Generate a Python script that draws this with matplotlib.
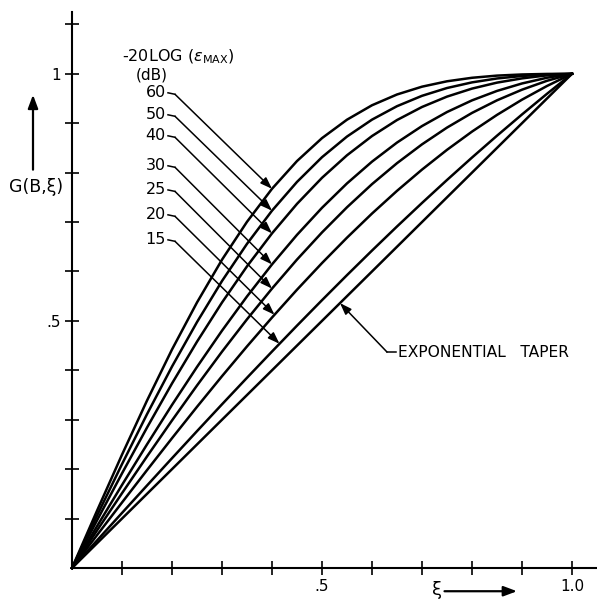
import numpy as np
import matplotlib
matplotlib.use("Agg")
import matplotlib.pyplot as plt

# normalized taper curves G(B, xi) at xi = 0, .05, ... 1.0
xi = [0.0, 0.05, 0.1, 0.15, 0.2, 0.25, 0.3, 0.35, 0.4, 0.45, 0.5,
      0.55, 0.6, 0.65, 0.7, 0.75, 0.8, 0.85, 0.9, 0.95, 1.0]
g60 = [0, 0.1157, 0.2293, 0.3387, 0.4421, 0.5373, 0.6238, 0.7005, 0.7673, 0.8234, 0.8698,
       0.9071, 0.9363, 0.9581, 0.9739, 0.9848, 0.9919, 0.9963, 0.9986, 0.9997, 1]
g50 = [0, 0.1059, 0.2102, 0.3112, 0.4076, 0.4976, 0.5807, 0.6559, 0.7230, 0.7812, 0.8312,
       0.8730, 0.9072, 0.9344, 0.9554, 0.9712, 0.9826, 0.9905, 0.9955, 0.9988, 1]
g40 = [0, 0.0963, 0.1914, 0.2841, 0.3734, 0.4579, 0.5372, 0.6104, 0.6771, 0.7368, 0.7895,
       0.8351, 0.8740, 0.9064, 0.9328, 0.9538, 0.9700, 0.9821, 0.9907, 0.9968, 1]
g30 = [0, 0.0844, 0.1680, 0.2501, 0.3300, 0.4068, 0.4802, 0.5495, 0.6143, 0.6741, 0.7288,
       0.7782, 0.8222, 0.8608, 0.8942, 0.9226, 0.9462, 0.9653, 0.9804, 0.9920, 1]
g25 = [0, 0.0759, 0.1513, 0.2257, 0.2985, 0.3693, 0.4377, 0.5032, 0.5654, 0.6241, 0.6790,
       0.7299, 0.7767, 0.8191, 0.8572, 0.8911, 0.9208, 0.9463, 0.9678, 0.9858, 1]
g20 = [0, 0.0664, 0.1325, 0.1980, 0.2626, 0.3261, 0.3881, 0.4484, 0.5068, 0.5631, 0.6170,
       0.6684, 0.7172, 0.7631, 0.8061, 0.8461, 0.8830, 0.9168, 0.9476, 0.9753, 1]
g15 = [0, 0.0557, 0.1114, 0.1669, 0.2221, 0.2769, 0.3312, 0.3849, 0.4380, 0.4904, 0.5419,
       0.5926, 0.6423, 0.6910, 0.7386, 0.7851, 0.8305, 0.8747, 0.9177, 0.9595, 1]
g_exp = [0, 0.05, 0.1, 0.15, 0.2, 0.25, 0.3, 0.35, 0.4, 0.45, 0.5,
         0.55, 0.6, 0.65, 0.7, 0.75, 0.8, 0.85, 0.9, 0.95, 1]

db_labels = ["60", "50", "40", "30", "25", "20", "15"]
db_curves = [g60, g50, g40, g30, g25, g20, g15]
label_y = [0.9615, 0.917, 0.8745, 0.8138, 0.765, 0.7146, 0.664]
tip_xi = [0.40, 0.40, 0.40, 0.40, 0.40, 0.405, 0.415]

xticks = [0.1, 0.2, 0.3, 0.4, 0.5, 0.6, 0.7, 0.8, 0.9, 1.0]
xticklabels = ["", "", "", "", ".5", "", "", "", "", "1.0"]
yticks = [0.1, 0.2, 0.3, 0.4, 0.5, 0.6, 0.7, 0.8, 0.9, 1.0, 1.1]
yticklabels = ["", "", "", "", ".5", "", "", "", "", "1", ""]

fig = plt.figure(figsize=(5.97, 6.04), dpi=100)
ax = fig.add_axes([72 / 597, 36 / 604, 525 / 597, 556 / 604])
ax.set_xlim(0, 1.05)
ax.set_ylim(0, 1.125)

for g in db_curves:
    ax.plot(xi, g, color="black", lw=1.8, solid_joinstyle="round", clip_on=False)
ax.plot(xi, g_exp, color="black", lw=1.8, clip_on=False)

for s in ["top", "right"]:
    ax.spines[s].set_visible(False)
for s in ["left", "bottom"]:
    ax.spines[s].set_linewidth(1.5)
ax.set_xticks(xticks)
ax.set_xticklabels(xticklabels, fontsize=11)
ax.set_yticks(yticks)
ax.set_yticklabels(yticklabels, fontsize=11)
ax.tick_params(direction="inout", length=10, width=1.2, pad=3)

arrow = dict(arrowstyle="-|>,head_length=0.7,head_width=0.25", color="black",
             lw=1.1, shrinkA=0, shrinkB=0)

# legend block with leader arrows
ax.text(0.1, 1.034, r"-20LOG ($\epsilon_{\rm MAX}$)", fontsize=11.5, ha="left", va="center")
ax.text(0.128, 0.998, "(dB)", fontsize=11, ha="left", va="center")
for lab, g, ly, tx in zip(db_labels, db_curves, label_y, tip_xi):
    ax.text(0.188, ly, lab, fontsize=11.5, ha="right", va="center")
    ax.plot([0.192, 0.206], [ly, ly - 0.003], color="black", lw=1.1, clip_on=False)
    ax.annotate("", xy=(tx, np.interp(tx, xi, g)), xytext=(0.206, ly - 0.003),
                arrowprops=arrow, annotation_clip=False)

# exponential taper label
exp_tip = 0.536
ax.annotate("", xy=(exp_tip, np.interp(exp_tip, xi, g_exp)), xytext=(0.63, 0.437),
            arrowprops=arrow, annotation_clip=False)
ax.plot([0.63, 0.648], [0.437, 0.437], color="black", lw=1.1, clip_on=False)
ax.text(0.652, 0.437, "EXPONENTIAL   TAPER", fontsize=11.2, ha="left", va="center")

# axis labels with arrows
ax.text(-0.072, 0.771, "G(B,ξ)", fontsize=12.5, ha="center", va="center")
ax.annotate("", xy=(-0.078, 0.9575), xytext=(-0.078, 0.806),
            arrowprops=dict(arrowstyle="-|>,head_length=0.8,head_width=0.3",
                            color="black", lw=1.6, shrinkA=0, shrinkB=0),
            annotation_clip=False)
ax.text(0.73, -0.045, "ξ", fontsize=13, ha="center", va="center")
ax.annotate("", xy=(0.89, -0.047), xytext=(0.745, -0.047),
            arrowprops=dict(arrowstyle="-|>,head_length=0.8,head_width=0.3",
                            color="black", lw=1.6, shrinkA=0, shrinkB=0),
            annotation_clip=False)

fig.savefig("out.png", dpi=100)
